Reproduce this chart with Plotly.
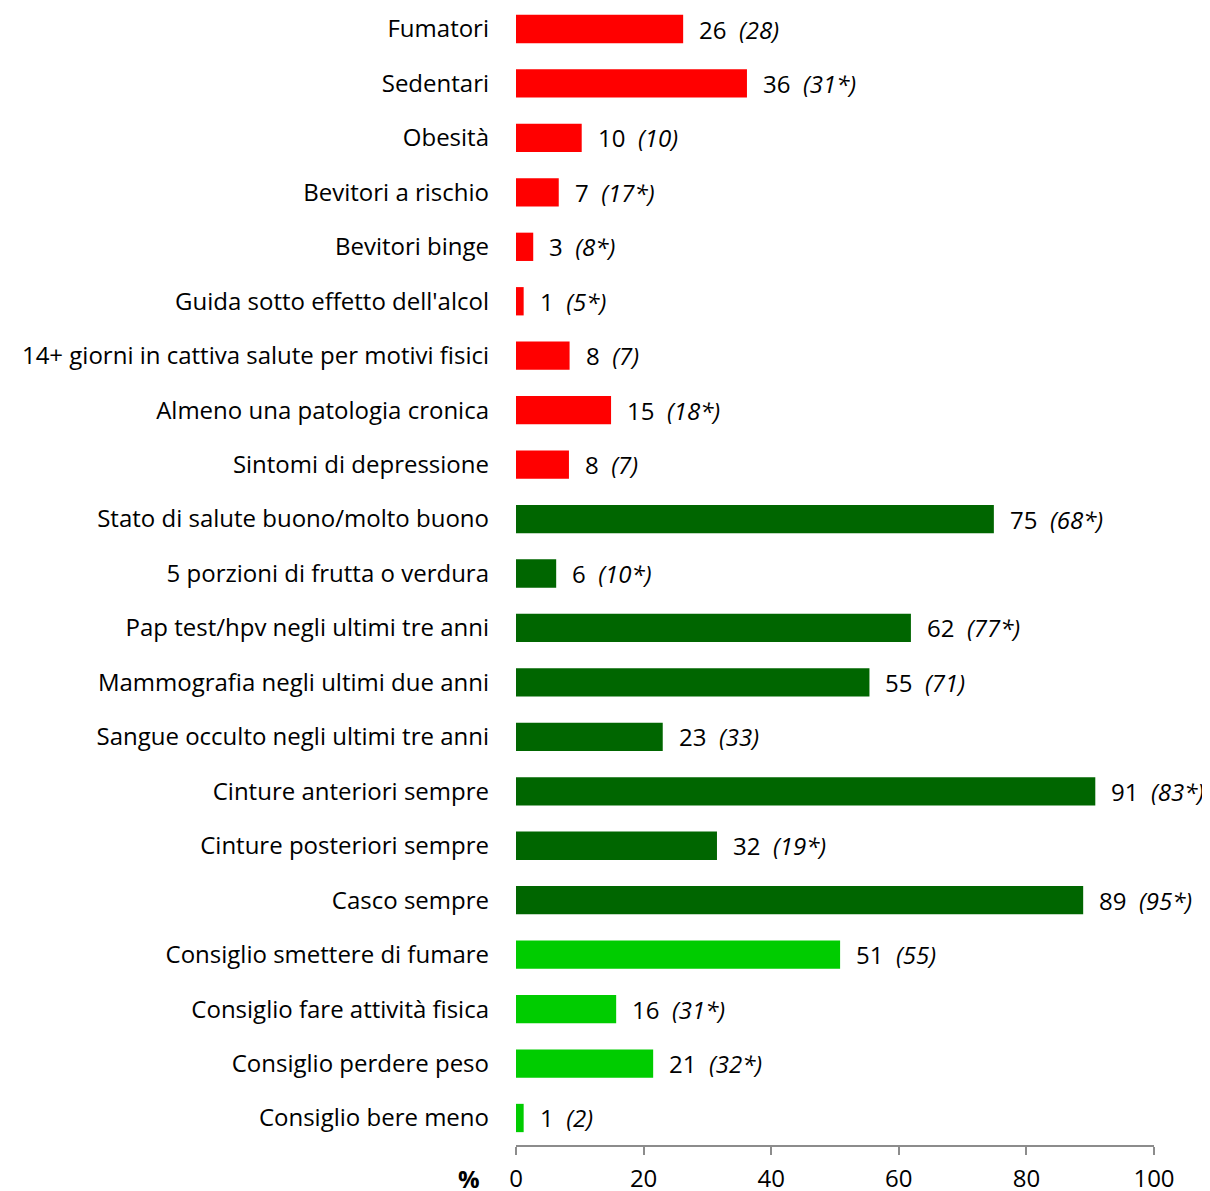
import plotly.graph_objects as go

categories = [
    "Fumatori", "Sedentari", "Obesità", "Bevitori a rischio", "Bevitori binge",
    "Guida sotto effetto dell'alcol", "14+ giorni in cattiva salute per motivi fisici",
    "Almeno una patologia cronica", "Sintomi di depressione",
    "Stato di salute buono/molto buono", "5 porzioni di frutta o verdura",
    "Pap test/hpv negli ultimi tre anni", "Mammografia negli ultimi due anni",
    "Sangue occulto negli ultimi tre anni", "Cinture anteriori sempre",
    "Cinture posteriori sempre", "Casco sempre", "Consiglio smettere di fumare",
    "Consiglio fare attività fisica", "Consiglio perdere peso", "Consiglio bere meno",
]
bar_values = [26.2, 36.2, 10.3, 6.7, 2.7, 1.2, 8.4, 14.9, 8.3, 74.9, 6.3, 61.9,
              55.4, 23.0, 90.8, 31.5, 88.9, 50.8, 15.7, 21.5, 1.2]
label_values = ["26", "36", "10", "7", "3", "1", "8", "15", "8", "75", "6", "62",
                "55", "23", "91", "32", "89", "51", "16", "21", "1"]
reference_values = ["28", "31*", "10", "17*", "8*", "5*", "7", "18*", "7", "68*", "10*",
                    "77*", "71", "33", "83*", "19*", "95*", "55", "31*", "32*", "2"]
groups = ["risk"] * 9 + ["prevention"] * 8 + ["advice"] * 4
group_colors = {"risk": "#FF0000", "prevention": "#006600", "advice": "#00CC00"}
x_ticks = [0, 20, 40, 60, 80, 100]

FONT = "Open Sans"
FS = 24

colors = [group_colors[g] for g in groups]

fig = go.Figure()
fig.add_trace(go.Bar(
    y=categories, x=bar_values, orientation="h",
    marker=dict(color=colors, line=dict(width=0)),
    width=0.52, hoverinfo="skip",
))

for cat, v, lab, ref in zip(categories, bar_values, label_values, reference_values):
    fig.add_annotation(
        x=v, y=cat, xref="x", yref="y",
        text=f"{lab}\u00a0\u00a0<i>({ref})</i>",
        showarrow=False, xanchor="left", yanchor="middle", xshift=14,
        font=dict(family=FONT, size=FS, color="black"),
    )

fig.add_annotation(
    x=0, y=0, xref="paper", yref="paper", text="<b>%</b>", showarrow=False,
    xanchor="right", yanchor="middle", xshift=-34, yshift=-33,
    font=dict(family=FONT, size=FS, color="black"),
)

fig.update_layout(
    width=1202, height=1183,
    margin=dict(l=508, r=56, t=0, b=46, autoexpand=False),
    plot_bgcolor="white", paper_bgcolor="white",
    showlegend=False,
    font=dict(family=FONT, size=FS, color="black"),
)
fig.update_yaxes(
    categoryorder="array", categoryarray=categories,
    range=[20.496, -0.386], automargin=False,
    showline=False, showgrid=False, zeroline=False, ticks="",
    ticklabelstandoff=26,
    tickfont=dict(family=FONT, size=FS, color="black"),
)
fig.update_xaxes(
    range=[0, 100], tickvals=x_ticks, ticktext=[str(t) for t in x_ticks],
    automargin=False,
    showline=True, linecolor="#8C8C8C", linewidth=1.5,
    ticks="outside", ticklen=8, tickcolor="#8C8C8C", tickwidth=1.5,
    ticklabelstandoff=3,
    showgrid=False, zeroline=False, fixedrange=True,
    tickfont=dict(family=FONT, size=FS, color="black"),
)

fig.write_html("out.html")
